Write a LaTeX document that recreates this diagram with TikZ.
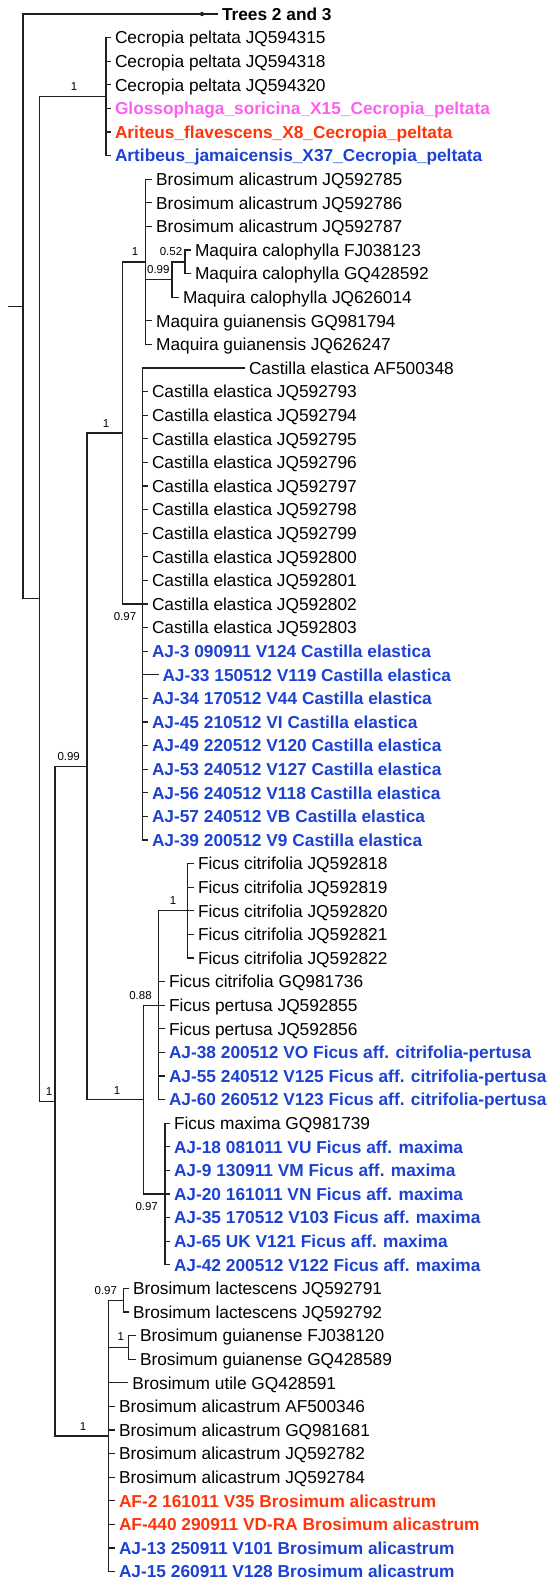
\documentclass[tikz,border=0pt]{standalone}
\usepackage{fontspec}
\setmainfont{Liberation Sans}
\definecolor{batpink}{RGB}{255,95,240}
\definecolor{batred}{RGB}{255,52,8}
\definecolor{batblue}{RGB}{28,66,212}
% vertical position of tip row #1
\newcommand{\ry}[1]{{14+23.6*(#1)}}
\begin{document}
\begin{tikzpicture}[x=1pt,y=-1pt,
  branch/.style={line width=1.2pt, draw=black!88},
  thickbranch/.style={line width=2.1pt, draw=black!88},
  leaf/.style={anchor=west, inner xsep=3.8pt, inner ysep=0pt,
    text height=12.4pt, text depth=0pt, font=\fontsize{17.3}{20}\selectfont},
  own/.style={leaf, font=\fontsize{17.3}{20}\selectfont\bfseries},
  pinkbat/.style={own, text=batpink},
  redbat/.style={own, text=batred},
  bluebat/.style={own, text=batblue},
  support/.style={inner sep=0pt, text height=8.2pt, text depth=0pt,
    font=\fontsize{11.5}{13}\selectfont}
]
\useasboundingbox (0,0) rectangle (551,1583);

% ---- internal nodes
\coordinate (base) at (8.3,306.4);
\coordinate (root) at (23,306.4);
\coordinate (A)    at (39.5,598.85);
\coordinate (cec)  at (106,96.6);
\coordinate (B)    at (55,1101.1);
\coordinate (C)    at (87,766.25);
\coordinate (E)    at (122.7,432.9);
\coordinate (G)    at (145.7,261.8);
\coordinate (mq)   at (172,279.5);
\coordinate (mc)   at (185,261.8);
\coordinate (H)    at (142.7,604);
\coordinate (F)    at (143.3,1099.6);
\coordinate (fp)   at (158.3,1005.2);
\coordinate (fc)   at (187.7,910.8);
\coordinate (fm)   at (165,1194);
\coordinate (D)    at (108.3,1435.9);
\coordinate (lac)  at (123.3,1300.2);
\coordinate (gui)  at (128.3,1347.4);

% ---- tips
\node[own] (l0) at (218,\ry{0}) {Trees 2 and 3};
\node[circle, fill=black!88, inner sep=1.5pt] (dot) at (202,\ry{0}) {};

\node[leaf] (l1) at (111,\ry{1}) {Cecropia peltata JQ594315};
\node[leaf] (l2) at (111,\ry{2}) {Cecropia peltata JQ594318};
\node[leaf] (l3) at (111,\ry{3}) {Cecropia peltata JQ594320};
\node[pinkbat] (l4) at (111,\ry{4}) {Glossophaga\_soricina\_X15\_Cecropia\_peltata};
\node[redbat] (l5) at (111,\ry{5}) {Ariteus\_flavescens\_X8\_Cecropia\_peltata};
\node[bluebat] (l6) at (111,\ry{6}) {Artibeus\_jamaicensis\_X37\_Cecropia\_peltata};

\node[leaf] (l7) at (152.2,\ry{7}) {Brosimum alicastrum JQ592785};
\node[leaf] (l8) at (152.2,\ry{8}) {Brosimum alicastrum JQ592786};
\node[leaf] (l9) at (152.2,\ry{9}) {Brosimum alicastrum JQ592787};
\node[leaf] (l10) at (191,\ry{10}) {Maquira calophylla FJ038123};
\node[leaf] (l11) at (191,\ry{11}) {Maquira calophylla GQ428592};
\node[leaf] (l12) at (179,\ry{12}) {Maquira calophylla JQ626014};
\node[leaf] (l13) at (152.2,\ry{13}) {Maquira guianensis GQ981794};
\node[leaf] (l14) at (152.2,\ry{14}) {Maquira guianensis JQ626247};

\node[leaf] (l15) at (245,\ry{15}) {Castilla elastica AF500348};
\node[leaf] (l16) at (148,\ry{16}) {Castilla elastica JQ592793};
\node[leaf] (l17) at (148,\ry{17}) {Castilla elastica JQ592794};
\node[leaf] (l18) at (148,\ry{18}) {Castilla elastica JQ592795};
\node[leaf] (l19) at (148,\ry{19}) {Castilla elastica JQ592796};
\node[leaf] (l20) at (148,\ry{20}) {Castilla elastica JQ592797};
\node[leaf] (l21) at (148,\ry{21}) {Castilla elastica JQ592798};
\node[leaf] (l22) at (148,\ry{22}) {Castilla elastica JQ592799};
\node[leaf] (l23) at (148,\ry{23}) {Castilla elastica JQ592800};
\node[leaf] (l24) at (148,\ry{24}) {Castilla elastica JQ592801};
\node[leaf] (l25) at (148,\ry{25}) {Castilla elastica JQ592802};
\node[leaf] (l26) at (148,\ry{26}) {Castilla elastica JQ592803};
\node[bluebat] (l27) at (148,\ry{27}) {AJ-3 090911 V124 Castilla elastica};
\node[bluebat] (l28) at (158.5,\ry{28}) {AJ-33 150512 V119 Castilla elastica};
\node[bluebat] (l29) at (148,\ry{29}) {AJ-34 170512 V44 Castilla elastica};
\node[bluebat] (l30) at (148,\ry{30}) {AJ-45 210512 VI Castilla elastica};
\node[bluebat] (l31) at (148,\ry{31}) {AJ-49 220512 V120 Castilla elastica};
\node[bluebat] (l32) at (148,\ry{32}) {AJ-53 240512 V127 Castilla elastica};
\node[bluebat] (l33) at (148,\ry{33}) {AJ-56 240512 V118 Castilla elastica};
\node[bluebat] (l34) at (148,\ry{34}) {AJ-57 240512 VB Castilla elastica};
\node[bluebat] (l35) at (148,\ry{35}) {AJ-39 200512 V9 Castilla elastica};

\node[leaf] (l36) at (194,\ry{36}) {Ficus citrifolia JQ592818};
\node[leaf] (l37) at (194,\ry{37}) {Ficus citrifolia JQ592819};
\node[leaf] (l38) at (194,\ry{38}) {Ficus citrifolia JQ592820};
\node[leaf] (l39) at (194,\ry{39}) {Ficus citrifolia JQ592821};
\node[leaf] (l40) at (194,\ry{40}) {Ficus citrifolia JQ592822};
\node[leaf] (l41) at (165,\ry{41}) {Ficus citrifolia GQ981736};
\node[leaf] (l42) at (165,\ry{42}) {Ficus pertusa JQ592855};
\node[leaf] (l43) at (165,\ry{43}) {Ficus pertusa JQ592856};
\node[bluebat] (l44) at (165,\ry{44}) {AJ-38 200512 VO Ficus aff. citrifolia-pertusa};
\node[bluebat] (l45) at (165,\ry{45}) {AJ-55 240512 V125 Ficus aff. citrifolia-pertusa};
\node[bluebat] (l46) at (165,\ry{46}) {AJ-60 260512 V123 Ficus aff. citrifolia-pertusa};
\node[leaf] (l47) at (170,\ry{47}) {Ficus maxima GQ981739};
\node[bluebat] (l48) at (170,\ry{48}) {AJ-18 081011 VU Ficus aff. maxima};
\node[bluebat] (l49) at (170,\ry{49}) {AJ-9 130911 VM Ficus aff. maxima};
\node[bluebat] (l50) at (170,\ry{50}) {AJ-20 161011 VN Ficus aff. maxima};
\node[bluebat] (l51) at (170,\ry{51}) {AJ-35 170512 V103 Ficus aff. maxima};
\node[bluebat] (l52) at (170,\ry{52}) {AJ-65 UK V121 Ficus aff. maxima};
\node[bluebat] (l53) at (170,\ry{53}) {AJ-42 200512 V122 Ficus aff. maxima};

\node[leaf] (l54) at (129,\ry{54}) {Brosimum lactescens JQ592791};
\node[leaf] (l55) at (129,\ry{55}) {Brosimum lactescens JQ592792};
\node[leaf] (l56) at (136,\ry{56}) {Brosimum guianense FJ038120};
\node[leaf] (l57) at (136,\ry{57}) {Brosimum guianense GQ428589};
\node[leaf] (l58) at (128.3,\ry{58}) {Brosimum utile GQ428591};
\node[leaf] (l59) at (115,\ry{59}) {Brosimum alicastrum AF500346};
\node[leaf] (l60) at (115,\ry{60}) {Brosimum alicastrum GQ981681};
\node[leaf] (l61) at (115,\ry{61}) {Brosimum alicastrum JQ592782};
\node[leaf] (l62) at (115,\ry{62}) {Brosimum alicastrum JQ592784};
\node[redbat] (l63) at (115,\ry{63}) {AF-2 161011 V35 Brosimum alicastrum};
\node[redbat] (l64) at (115,\ry{64}) {AF-440 290911 VD-RA Brosimum alicastrum};
\node[bluebat] (l65) at (115,\ry{65}) {AJ-13 250911 V101 Brosimum alicastrum};
\node[bluebat] (l66) at (115,\ry{66}) {AJ-15 260911 V128 Brosimum alicastrum};

% ---- branches between internal nodes
\draw[branch] (base) -- (root);
\draw[branch] (root) |- (l0.west);
\draw[branch] (root) |- (A);
\draw[branch] (A) |- (cec);
\draw[branch] (A) |- (B);
\draw[branch] (B) |- (C);
\draw[branch] (B) |- (D);
\draw[branch] (C) |- (E);
\draw[branch] (C) |- (F);
\draw[branch] (E) |- (G);
\draw[thickbranch] (E |- G) -- (G);
\draw[branch] (E) |- (H);
\draw[branch] (G) |- (mq);
\draw[branch] (mq) |- (mc);
\draw[thickbranch] (mq |- mc) -- (mc);
\draw[branch] (F) |- (fp);
\draw[branch] (F) |- (fm);
\draw[branch] (fp) |- (fc);
\draw[branch] (D) |- (lac);
\draw[branch] (D) |- (gui);

% ---- branches to tips
\foreach \k in {1,...,6} \draw[branch] (cec) |- (l\k.west);
\foreach \k in {7,8,9,13,14} \draw[branch] (G) |- (l\k.west);
\foreach \k in {10,11} \draw[branch] (mc) |- (l\k.west);
\draw[branch] (mq) |- (l12.west);
\foreach \k in {15,...,35} \draw[branch] (H) |- (l\k.west);
\foreach \k in {36,...,40} \draw[branch] (fc) |- (l\k.west);
\foreach \k in {41,...,46} \draw[branch] (fp) |- (l\k.west);
\foreach \k in {47,...,53} \draw[branch] (fm) |- (l\k.west);
\foreach \k in {54,55} \draw[branch] (lac) |- (l\k.west);
\foreach \k in {56,57} \draw[branch] (gui) |- (l\k.west);
\foreach \k in {58,...,66} \draw[branch] (D) |- (l\k.west);

% ---- posterior support values
\node[support] (s1)  at (74,86.7)     {1};
\node[support] (s2)  at (135,251)     {1};
\node[support] (s3)  at (171,251)     {0.52};
\node[support] (s4)  at (158.3,269.3) {0.99};
\node[support] (s5)  at (106,423)     {1};
\node[support] (s6)  at (125,616.7)   {0.97};
\node[support] (s7)  at (68.7,756)    {0.99};
\node[support] (s8)  at (173,900.7)   {1};
\node[support] (s9)  at (140.5,995.7) {0.88};
\node[support] (s10) at (117,1090)    {1};
\node[support] (s11) at (49,1091)     {1};
\node[support] (s12) at (146.7,1206.7){0.97};
\node[support] (s13) at (105.8,1290)  {0.97};
\node[support] (s14) at (120.7,1336.7){1};
\node[support] (s15) at (83,1426)     {1};
\end{tikzpicture}
\end{document}
